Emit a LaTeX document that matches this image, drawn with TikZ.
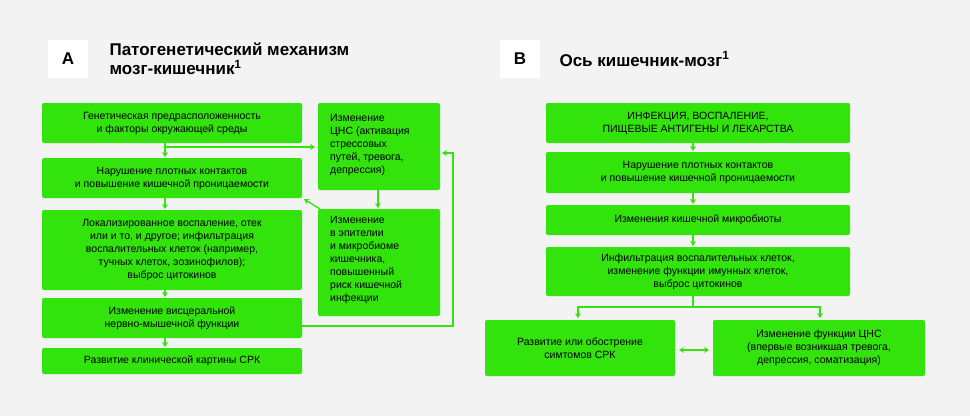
\documentclass[tikz,border=0pt]{standalone}
\usepackage{fontspec}
\setmainfont{Liberation Sans}
\usetikzlibrary{arrows.meta}
\definecolor{boxgreen}{HTML}{33E30C}
\definecolor{bggray}{HTML}{F3F3F3}
\tikzset{
  box/.style={fill=boxgreen, rounded corners=2pt, inner sep=0pt, align=center,
    font=\fontsize{10.5}{13}\selectfont},
  lbox/.style={box, align=left},
  link/.style={draw=boxgreen, line width=1.3pt, -{Stealth[length=5pt,width=6pt]}},
  title/.style={anchor=west, align=left, font=\bfseries\fontsize{17}{19}\selectfont},
  letter/.style={fill=white, minimum width=40pt, minimum height=38pt,
    font=\bfseries\fontsize{17}{19}\selectfont}
}
\newcommand{\pbox}[6]{% name, x1, y1, x2, y2, text
  \fill[boxgreen, rounded corners=2pt] (#2,#3) rectangle (#4,#5);
  \node[box] (#1) at ({(#2+#4)/2},{(#3+#5)/2}) {#6};
  \coordinate (#1-nw) at (#2,#3); \coordinate (#1-se) at (#4,#5);}
\begin{document}
\begin{tikzpicture}[x=1pt,y=-1pt]
\fill[bggray] (0,0) rectangle (970,416);
\useasboundingbox (0,0) rectangle (970,416);

% Panel A
\node[letter] (la) at (68,59) {A};
\node[title] (ta) at (106,59) {Патогенетический механизм\\мозг-кишечник\textsuperscript{1}};
\pbox{ga}{42}{103}{302}{143}{Генетическая предрасположенность\\и факторы окружающей среды}
\pbox{gb}{42}{158}{302}{198}{Нарушение плотных контактов\\и повышение кишечной проницаемости}
\pbox{gc}{42}{210}{302}{290}{Локализированное воспаление, отек\\или и то, и другое; инфильтрация\\воспалительных клеток (например,\\тучных клеток, эозинофилов);\\выброс цитокинов}
\pbox{gd}{42}{298}{302}{338}{Изменение висцеральной\\нервно-мышечной функции}
\pbox{ge}{42}{348}{302}{374}{Развитие клинической картины СРК}
\fill[boxgreen, rounded corners=2pt] (318,103) rectangle (440,190);
\node[box, align=left, anchor=north west] (ra) at (330,114) {Изменение\\ЦНС (активация\\стрессовых\\путей, тревога,\\депрессия)};
\fill[boxgreen, rounded corners=2pt] (318,209) rectangle (440,316);
\node[box, align=left, anchor=north west] (rb) at (330,216) {Изменение\\в эпителии\\и микробиоме\\кишечника,\\повышенный\\риск кишечной\\инфекции};

\coordinate (s1) at (165,143);
\coordinate (s2) at (165,147);
\draw[link] (s1) -- (165,157);
\draw[link] (s2) -- (315,147);
\draw[link] (165,198) -- (165,209);
\draw[link] (165,290) -- (165,297);
\draw[link] (165,338) -- (165,347);
\draw[link] (378,190) -- (378,208);
\draw[link] (320,209) -- (304,199);
\draw[link] (302,326) -- (453,326) -- (453,153) -- (442,153);

% Panel B
\node[letter] (lb) at (520,59) {B};
\node[title] (tb) at (556,59) {Ось кишечник-мозг\textsuperscript{1}};
\pbox{ca}{546}{103}{850}{143}{ИНФЕКЦИЯ, ВОСПАЛЕНИЕ,\\ПИЩЕВЫЕ АНТИГЕНЫ И ЛЕКАРСТВА}
\pbox{cb}{546}{152}{850}{193}{Нарушение плотных контактов\\и повышение кишечной проницаемости}
\pbox{cc}{546}{205}{850}{235}{Изменения кишечной микробиоты}
\pbox{cd}{546}{247}{850}{296}{Инфильтрация воспалительных клеток,\\изменение функции имунных клеток,\\выброс цитокинов}
\pbox{ce}{485}{320}{675}{376}{Развитие или обострение\\симтомов СРК}
\pbox{cf}{713}{320}{925}{376}{Изменение функции ЦНС\\(впервые возникшая тревога,\\депрессия, соматизация)}
\draw[link] (693,143) -- (693,151);
\draw[link] (693,193) -- (693,204);
\draw[link] (693,235) -- (693,246);
\draw[boxgreen, line width=1.3pt] (693,296) -- (693,307);
\draw[link] (577,307) -- (820,307) -- (820,318);
\draw[link] (578,307) -- (578,318);
\draw[link, {Stealth[length=5pt,width=6pt]}-{Stealth[length=5pt,width=6pt]}] (679,350) -- (709,350);
\end{tikzpicture}
\end{document}
